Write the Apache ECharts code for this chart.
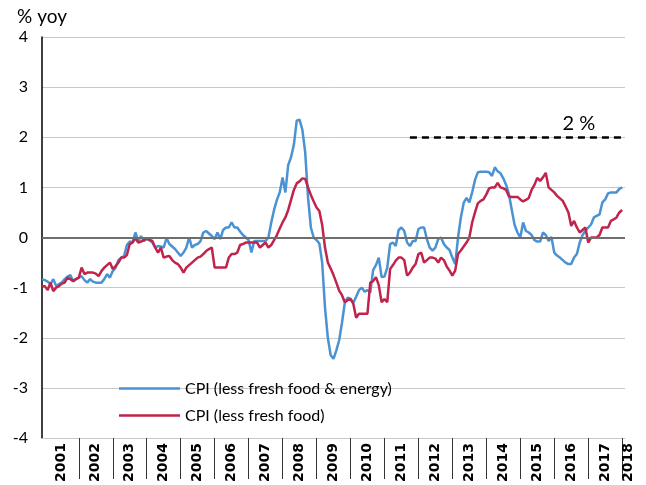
<!DOCTYPE html>
<html>
<head>
<meta charset="utf-8">
<script src="https://cdn.jsdelivr.net/npm/echarts@6/dist/echarts.min.js"></script>
<style>
  html, body { margin: 0; padding: 0; background: #fff; }
  #chart { width: 646px; height: 485px; }
</style>
</head>
<body>
<div id="chart"></div>
<script>
// year labels on the bottom axis
const years = ['2001', '2002', '2003', '2004', '2005', '2006', '2007', '2008', '2009',
  '2010', '2011', '2012', '2013', '2014', '2015', '2016', '2017', '2018'];

// monthly categories: Dec 2000 .. Feb 2018 (last one is only the axis end)
const months = ['2000-12'];
years.slice(0, -1).forEach(y => {
  for (let m = 1; m <= 12; m++) months.push(y + '-' + (m < 10 ? '0' + m : m));
});
months.push('2018-01', '2018-02');

// CPI (less fresh food & energy), % yoy
const cpiCore = [
  -0.83,
  -0.85, -0.88, -0.93, -0.83, -0.97, -0.93, -0.9, -0.83, -0.78, -0.75, -0.87, -0.83,
  -0.8, -0.77, -0.85, -0.9, -0.83, -0.88, -0.9, -0.9, -0.9, -0.83, -0.73, -0.8,
  -0.67, -0.6, -0.45, -0.4, -0.37, -0.15, -0.08, -0.1, 0.1, -0.07, 0.03, -0.07,
  -0.03, -0.05, -0.1, -0.2, -0.17, -0.18, -0.2, -0.01, -0.13, -0.18, -0.23, -0.3,
  -0.37, -0.3, -0.2, 0.0, -0.2, -0.15, -0.13, -0.07, 0.1, 0.13, 0.08, 0.03,
  -0.03, 0.1, -0.03, 0.15, 0.2, 0.2, 0.3, 0.2, 0.2, 0.12, 0.05, 0.0,
  -0.05, -0.3, -0.07, -0.07, -0.07, -0.07, -0.07, 0.0, 0.3, 0.55, 0.75, 0.9,
  1.2, 0.9, 1.45, 1.6, 1.85, 2.33, 2.35, 2.15, 1.7, 0.8, 0.2, 0.0,
  -0.05, -0.12, -0.5, -1.4, -2.0, -2.35, -2.42, -2.25, -2.05, -1.7, -1.3, -1.2,
  -1.22, -1.3, -1.18, -1.05, -1.0, -1.08, -1.05, -1.1, -0.65, -0.55, -0.4, -0.79,
  -0.78, -0.6, -0.13, -0.1, -0.17, 0.15, 0.2, 0.13, -0.1, -0.17, -0.07, -0.07,
  0.17, 0.2, 0.2, -0.03, -0.2, -0.26, -0.2, -0.03, 0.0, -0.13, -0.2, -0.25,
  -0.4, -0.53, 0.0, 0.4, 0.69, 0.79, 0.7, 0.9, 1.15, 1.3, 1.31, 1.31,
  1.31, 1.3, 1.23, 1.4, 1.32, 1.28, 1.18, 1.05, 0.86, 0.55, 0.25, 0.1,
  0.0, 0.3, 0.13, 0.1, 0.05, -0.05, -0.08, -0.08, 0.1, 0.05, -0.07, 0.01,
  -0.3, -0.36, -0.4, -0.45, -0.5, -0.53, -0.53, -0.4, -0.33, -0.1, 0.05, 0.13,
  0.2, 0.26, 0.4, 0.43, 0.46, 0.7, 0.76, 0.88, 0.9, 0.9, 0.9, 0.97,
  1.0
];

// CPI (less fresh food), % yoy
const cpiExFresh = [
  -0.97,
  -0.97, -1.05, -0.9, -1.07, -1.0, -0.97, -0.92, -0.9, -0.8, -0.83, -0.87, -0.83,
  -0.8, -0.6, -0.73, -0.7, -0.7, -0.7, -0.72, -0.77, -0.67, -0.6, -0.55, -0.5,
  -0.63, -0.57, -0.5, -0.4, -0.4, -0.35, -0.13, -0.1, -0.01, -0.1, -0.08, -0.05,
  -0.02, -0.05, -0.07, -0.2, -0.3, -0.2, -0.4, -0.38, -0.37, -0.45, -0.5, -0.53,
  -0.6, -0.7, -0.6, -0.55, -0.5, -0.45, -0.4, -0.38, -0.33, -0.27, -0.23, -0.2,
  -0.6, -0.6, -0.6, -0.6, -0.6, -0.4, -0.33, -0.33, -0.3, -0.15, -0.13, -0.1,
  -0.1, -0.1, -0.1, -0.1, -0.2, -0.15, -0.1, -0.2, -0.15, -0.05, 0.05, 0.18,
  0.3, 0.4, 0.55, 0.75, 0.95, 1.08, 1.12, 1.18, 1.17, 1.0, 0.85, 0.72,
  0.6, 0.53, 0.25, -0.2, -0.5, -0.62, -0.75, -0.9, -1.06, -1.15, -1.29, -1.25,
  -1.23, -1.32, -1.6, -1.52, -1.52, -1.52, -1.52, -0.9, -0.87, -0.79, -0.95, -1.29,
  -1.23, -1.29, -0.63, -0.55, -0.46, -0.4, -0.4, -0.45, -0.76, -0.7, -0.6, -0.53,
  -0.33, -0.3, -0.5, -0.45, -0.4, -0.4, -0.42, -0.5, -0.4, -0.45, -0.58, -0.66,
  -0.76, -0.66, -0.33, -0.26, -0.18, -0.1, 0.0, 0.3, 0.5, 0.68, 0.73, 0.76,
  0.86, 0.98, 1.0, 1.0, 1.09, 1.0, 0.98, 0.95, 0.82, 0.81, 0.81, 0.81,
  0.76, 0.72, 0.75, 0.79, 0.95, 1.05, 1.19, 1.13, 1.2, 1.29, 1.0, 0.95,
  0.9, 0.83, 0.78, 0.73, 0.62, 0.5, 0.23, 0.33, 0.2, 0.1, 0.15, 0.2,
  -0.1, 0.0, 0.0, 0.0, 0.05, 0.2, 0.2, 0.2, 0.33, 0.36, 0.4, 0.5,
  0.55
];

// 2 % target line
const target = 2;
const targetFrom = '2011-10';
const targetTo = '2018-01';

const yTicks = [-4, -3, -2, -1, 0, 1, 2, 3, 4];

const textFont = 'Lato';
var chartDom = document.getElementById('chart');
var myChart = echarts.init(chartDom);

const yearLabelStyle = {
  color: '#000',
  fontSize: 14,
  fontWeight: 'bold',
  fontFamily: 'DejaVu Sans'
};

var option = {
  animation: false,
  backgroundColor: '#fff',
  grid: { left: 42, right: 21, top: 37, bottom: 44 },
  legend: {
    data: ['CPI (less fresh food & energy)', 'CPI (less fresh food)'],
    orient: 'vertical',
    left: 114,
    top: 374,
    icon: 'rect',
    itemWidth: 61,
    itemHeight: 2.5,
    itemGap: 8,
    textStyle: { color: '#000', fontSize: 16, fontFamily: textFont, lineHeight: 19 }
  },
  xAxis: {
    type: 'category',
    data: months,
    boundaryGap: false,
    axisLine: { onZero: false, lineStyle: { color: '#c8c8c8', width: 1 } },
    axisTick: {
      show: true,
      interval: (index, value) => index > 1 && value.endsWith('-01'),
      length: 41,
      lineStyle: { color: '#333', width: 1 }
    },
    axisLabel: {
      interval: (index, value) => value.endsWith('-07') || value === '2018-02',
      // the 2018 stub sits just right of its separator
      formatter: v => (v === '2018-02' ? '{last|2018}' : v.slice(0, 4)),
      rotate: 90,
      margin: 5,
      ...yearLabelStyle,
      rich: {
        last: { ...yearLabelStyle, padding: [6, 0, 0, 0] }
      }
    },
    splitLine: { show: false }
  },
  yAxis: {
    type: 'value',
    min: yTicks[0],
    max: yTicks[yTicks.length - 1],
    interval: 1,
    name: '% yoy',
    nameLocation: 'end',
    nameGap: 11,
    nameTextStyle: { color: '#000', fontSize: 19, fontFamily: textFont, align: 'center' },
    axisLine: { show: true, lineStyle: { color: '#000', width: 1.5 } },
    axisTick: { show: false },
    axisLabel: { color: '#000', fontSize: 16, fontFamily: textFont, margin: 14 },
    splitLine: { lineStyle: { color: '#c8c8c8', width: 1 } }
  },
  series: [
    {
      name: 'guides',
      type: 'line',
      data: [],
      z: 1,
      silent: true,
      markLine: {
        silent: true,
        symbol: 'none',
        data: [
          {
            yAxis: 0,
            lineStyle: { color: '#6e6e6e', width: 2, type: 'solid' },
            label: { show: false }
          },
          [
            {
              coord: [targetFrom, target],
              lineStyle: { color: '#000', width: 2.5, type: [7, 5] },
              label: {
                show: true,
                position: 'insideEndTop',
                formatter: '2 %',
                distance: [27, 4],
                color: '#000',
                fontSize: 20,
                fontFamily: textFont
              }
            },
            { coord: [targetTo, target] }
          ]
        ]
      }
    },
    {
      name: 'CPI (less fresh food & energy)',
      type: 'line',
      data: cpiCore,
      symbol: 'none',
      z: 3,
      lineStyle: { color: '#4b92d2', width: 2.5 },
      itemStyle: { color: '#4b92d2' }
    },
    {
      name: 'CPI (less fresh food)',
      type: 'line',
      data: cpiExFresh,
      symbol: 'none',
      z: 4,
      lineStyle: { color: '#c0244b', width: 2.5 },
      itemStyle: { color: '#c0244b' }
    }
  ]
};

option && myChart.setOption(option);
</script>
</body>
</html>
